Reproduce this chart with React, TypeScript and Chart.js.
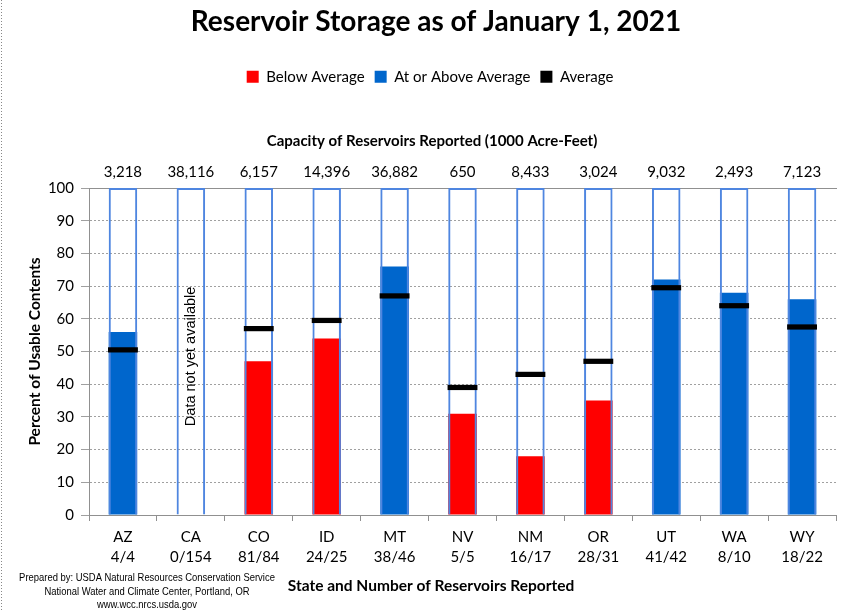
import React, { useEffect, useRef } from 'react';
import { Chart, registerables } from 'chart.js';
Chart.register(...registerables);

const states = ['AZ', 'CA', 'CO', 'ID', 'MT', 'NV', 'NM', 'OR', 'UT', 'WA', 'WY'];
const reported = ['4/4', '0/154', '81/84', '24/25', '38/46', '5/5', '16/17', '28/31', '41/42', '8/10', '18/22'];
const capacity = ['3,218', '38,116', '6,157', '14,396', '36,882', '650', '8,433', '3,024', '9,032', '2,493', '7,123'];
const percentFull: (number | null)[] = [56, null, 47, 54, 76, 31, 18, 35, 72, 68, 66];
const averageFull: (number | null)[] = [50.5, null, 57, 59.5, 67, 39, 43, 47, 69.5, 64, 57.5];
const yTicks = [0, 10, 20, 30, 40, 50, 60, 70, 80, 90, 100];
const mainTitle = 'Reservoir Storage as of January 1, 2021';
const noDataText = 'Data not yet available';
const noDataIndex = 1;
const capacityTitle = 'Capacity of Reservoirs Reported (1000 Acre-Feet)';
const xTitle = 'State and Number of Reservoirs Reported';
const footerLines = [
  'Prepared by: USDA Natural Resources Conservation Service',
  'National Water and Climate Center, Portland, OR',
  'www.wcc.nrcs.usda.gov',
];

const FONT = 'Lato';

export default function App() {
  const ref = useRef<HTMLCanvasElement>(null);
  useEffect(() => {
    document.body.style.margin = '0';
    const below = percentFull.map((v, i) => (v != null && averageFull[i] != null && v < (averageFull[i] as number) ? v : null));
    const above = percentFull.map((v, i) => (v != null && averageFull[i] != null && v >= (averageFull[i] as number) ? v : null));
    const avgBars = averageFull.map((a) => (a == null ? null : [a - 0.8, a + 0.8]));
    const capacityOutline = states.map(() => 100);

    const bgPlugin = {
      id: 'bg',
      beforeDraw(chart: any) {
        const c = chart.ctx;
        c.save();
        c.fillStyle = '#ffffff';
        c.fillRect(0, 0, chart.width, chart.height);
        c.restore();
      },
    };
    const extras = {
      id: 'extras',
      afterDraw(chart: any) {
        const c = chart.ctx;
        const x = chart.scales.x;
        const y = chart.scales.y;
        c.save();
        // left dotted border
        c.strokeStyle = '#888';
        c.lineWidth = 1;
        c.setLineDash([1, 2]);
        c.beginPath();
        c.moveTo(1.5, 0);
        c.lineTo(1.5, chart.height);
        c.stroke();
        c.setLineDash([]);
        // titles
        c.fillStyle = '#000';
        c.textAlign = 'center';
        c.textBaseline = 'middle';
        c.font = `bold 28px ${FONT}`;
        c.fillText(mainTitle, 436, 22);
        c.font = `bold 15px ${FONT}`;
        c.fillText(capacityTitle, 432, 141);
        c.font = `bold 15.5px ${FONT}`;
        c.fillText(xTitle, 431, 586);
        // no data text
        c.translate(x.getPixelForValue(noDataIndex), y.getPixelForValue(48.5));
        c.rotate(-Math.PI / 2);
        c.font = '14.5px "Liberation Sans"';
        c.fillText(noDataText, 0, 0);
        c.restore();
        // footer
        c.save();
        c.fillStyle = '#000';
        c.font = '11.5px "Liberation Sans"';
        c.textAlign = 'center';
        c.textBaseline = 'middle';
        const ys = [578, 591.5, 605];
        footerLines.forEach((t, i) => {
          c.save();
          c.translate(147, ys[i]);
          c.scale(0.82, 1);
          c.fillText(t, 0, 0);
          c.restore();
        });
        c.restore();
      },
    };

    const chart = new Chart(ref.current as HTMLCanvasElement, {
      type: 'bar',
      data: {
        labels: states.map((s, i) => [s, reported[i]]),
        datasets: [
          {
            label: 'outline',
            data: capacityOutline,
            backgroundColor: 'rgba(255,255,255,0)',
            borderColor: '#4F86E0',
            borderWidth: 2,
            order: 1,
          },
          {
            label: 'Below Average',
            data: below,
            backgroundColor: '#FF0000',
            borderWidth: 0,
            order: 2,
          },
          {
            label: 'At or Above Average',
            data: above,
            backgroundColor: '#0066CC',
            borderWidth: 0,
            order: 2,
          },
          {
            label: 'Average',
            data: avgBars as any,
            backgroundColor: '#000000',
            borderWidth: 0,
            barPercentage: 0.44,
            order: 0,
          },
        ],
      },
      options: {
        responsive: false,
        devicePixelRatio: 1,
        animation: false,
        datasets: { bar: { grouped: false, categoryPercentage: 1, barPercentage: 0.42 } } as any,
        layout: { padding: { top: 0, right: 17, bottom: 2, left: 24 } },
        plugins: {
          tooltip: { enabled: false },
          title: {
            display: true,
            text: '',
            font: { family: FONT, size: 28, weight: 'bold' },
            padding: { top: 5, bottom: 20.6 },
          },
          legend: {
            display: true,
            labels: {
              color: '#000',
              font: { family: FONT, size: 15 },
              boxWidth: 12,
              boxHeight: 12,
              padding: 10,
              filter: (item: any) => item.datasetIndex !== 0,
              sort: (a: any, b: any) => a.datasetIndex - b.datasetIndex,
            },
          },
        },
        scales: {
          x: {
            position: 'bottom',
            afterFit: (s: any) => {
              s.height = 94;
            },
            grid: { offset: true, drawOnChartArea: false, drawTicks: true, tickLength: 6, color: '#909090' },
            border: { color: '#909090' },
            ticks: { color: '#000', font: { family: FONT, size: 15, lineHeight: 1.33 }, padding: 6, maxRotation: 0, autoSkip: false },
          },
          x2: {
            type: 'category',
            position: 'top',
            labels: capacity,
            afterFit: (s: any) => {
              s.height = 93.8;
            },
            grid: { display: false, drawTicks: false },
            border: { display: true, color: '#909090' },
            ticks: { color: '#000', font: { family: FONT, size: 15 }, padding: 7, maxRotation: 0, autoSkip: false },
          },
          y: {
            min: 0,
            max: 100,
            afterFit: (s: any) => {
              s.width = 65;
            },
            afterBuildTicks: (s: any) => {
              s.ticks = yTicks.map((v) => ({ value: v }));
            },
            grid: { color: '#a0a0a0', tickLength: 8, drawTicks: true },
            border: { color: '#909090', dash: [2, 2] },
            ticks: { color: '#000', font: { family: FONT, size: 15 }, padding: 7 },
            title: {
              display: true,
              text: 'Percent of Usable Contents',
              color: '#000',
              font: { family: FONT, size: 15.5, weight: 'bold' },
              padding: { top: 2, bottom: 4 },
            },
          },
        },
      },
      plugins: [bgPlugin, extras],
    } as any);
    return () => chart.destroy();
  }, []);
  return (
    <div style={{ width: 853, height: 611 }}>
      <canvas ref={ref} width={853} height={611} />
    </div>
  );
}
